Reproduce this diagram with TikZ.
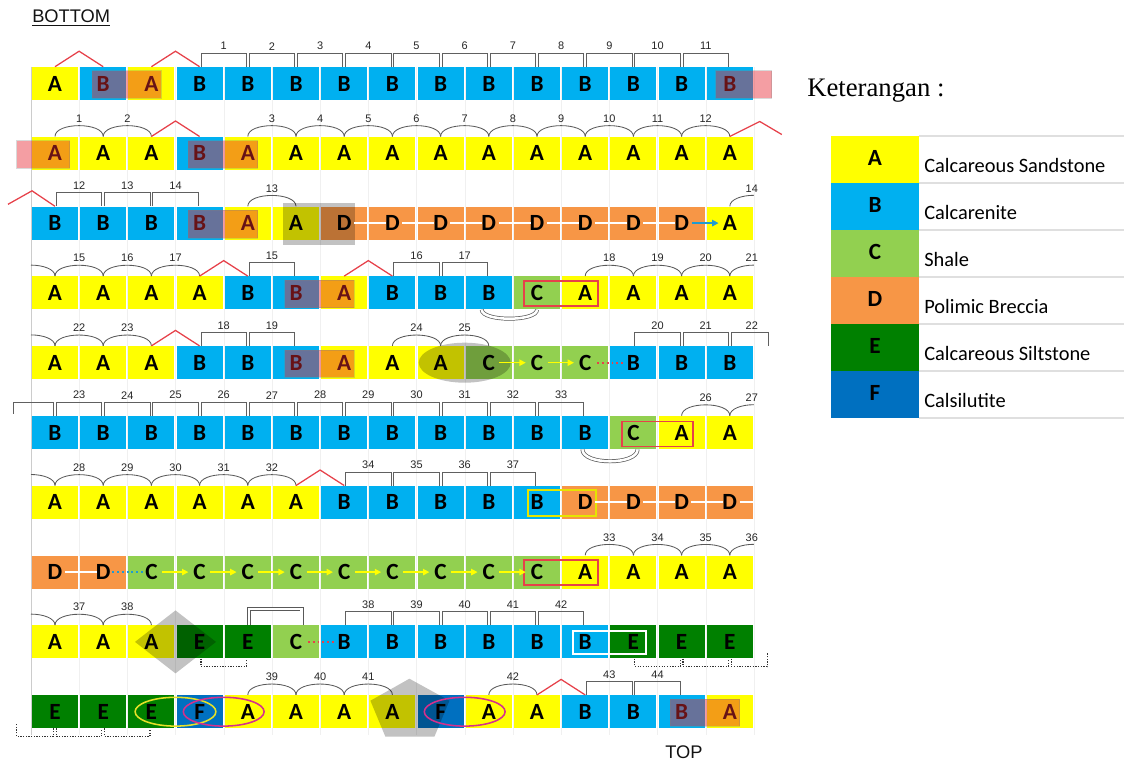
\documentclass[tikz,border=0pt]{standalone}
\usepackage{fontspec}
\usepackage{tikz}
\usetikzlibrary{calc,arrows.meta}
\newfontfamily\calfont{Carlito}
\newfontfamily\arialfont{Liberation Sans}
\newfontfamily\timesfont{Liberation Serif}

\definecolor{colA}{HTML}{FFFF00}
\definecolor{colB}{HTML}{00B0F0}
\definecolor{colC}{HTML}{92D050}
\definecolor{colD}{HTML}{F79646}
\definecolor{colE}{HTML}{008000}
\definecolor{colF}{HTML}{0070C0}
\definecolor{merah}{HTML}{E6414A}
\definecolor{merahlapis}{HTML}{E62832}
\definecolor{biru}{HTML}{1F9BD0}
\definecolor{magen}{HTML}{D6308C}
\definecolor{kuningtua}{HTML}{E6E128}

\tikzset{
  cell/.style={fill=col#1, minimum width=1.15cm, minimum height=0.825cm, inner sep=0pt,
    font=\calfont\bfseries\fontsize{16.5}{17}\selectfont},
  kurung/.style={draw=gray!75!black, line width=0.6pt},
  lengkung/.style={draw=gray!70!black, line width=0.6pt},
  chevron/.style={draw=merah, line width=0.9pt},
  angka/.style={font=\arialfont\fontsize{7.8}{8}\selectfont, text=gray!30!black, inner sep=0pt},
  lapis/.style={fill=merahlapis, fill opacity=0.45, draw=gray, draw opacity=0.3, line width=0.4pt},
  bayang/.style={fill=gray!48, blend mode=multiply},
  bingkai/.style={draw=#1, line width=1.4pt},
  panah/.style={draw=#1, line width=1pt, -{Triangle[length=4.5pt,width=4.5pt]}, shorten <=7.5pt, shorten >=8pt},
  garis/.style={draw=white, line width=1.3pt, shorten <=7pt, shorten >=4.5pt},
  titik/.style={densely dotted, line width=0.9pt, draw=gray!40!black},
  putus/.style={dotted, line width=1.4pt, draw=#1, shorten <=8.5pt, shorten >=7pt},
  kembar/.style={draw=gray!70!black, double=white, double distance=1.8pt, line width=0.5pt}
}

\begin{document}
\begin{tikzpicture}[x=0.025cm, y=-0.025cm]

\def\cw{48.2}
\def\rh{69.8}

\useasboundingbox (0,0) rectangle (1124,760);

\foreach \k in {1,...,15}
  \draw[gray!12] ({31+\cw*\k},67) -- ({31+\cw*\k},735);
\draw[gray!40] (31,67) -- (31,735);

\foreach \r/\urut in {1/{A,B,A,B,B,B,B,B,B,B,B,B,B,B,B},
                      2/{A,A,A,B,A,A,A,A,A,A,A,A,A,A,A},
                      3/{B,B,B,B,A,A,D,D,D,D,D,D,D,D,A},
                      4/{A,A,A,A,B,B,A,B,B,B,C,A,A,A,A},
                      5/{A,A,A,B,B,B,A,A,A,C,C,C,B,B,B},
                      6/{B,B,B,B,B,B,B,B,B,B,B,B,C,A,A},
                      7/{A,A,A,A,A,A,B,B,B,B,B,D,D,D,D},
                      8/{D,D,C,C,C,C,C,C,C,C,C,A,A,A,A},
                      9/{A,A,A,E,E,C,B,B,B,B,B,B,E,E,E},
                      10/{E,E,E,F,A,A,A,A,F,A,A,B,B,B,A}}{
  \foreach \L [count=\i from 0] in \urut
    \node[cell=\L] (k\r-\i) at ({55+\cw*\i},{83.5+\rh*(\r-1)}) {\L};
}

\foreach \r/\i/\n [evaluate=\i as \j using int(\i+1)] in {1/3/1,1/4/2,1/5/3,1/6/4,1/7/5,1/8/6,1/9/7,1/10/8,1/11/9,1/12/10,1/13/11,
    3/0/12,3/1/13,3/2/14, 4/4/15,4/7/16,4/8/17, 5/3/18,5/4/19,5/12/20,5/13/21,
    6/0/23,6/1/24,6/2/25,6/3/26,6/4/27,6/5/28,6/6/29,6/7/30,6/8/31,6/9/32,6/10/33,
    7/6/34,7/7/35,7/8/36,7/9/37, 9/6/38,9/7/39,9/8/40,9/9/41,9/10/42, 10/11/43,10/12/44}{
  \draw[kurung] ([xshift=1pt]k\r-\i.north) -- ++(0,-13.5) -| ([xshift=-1pt]k\r-\j.north);
  \node[angka] (nk\r-\i) at ($(k\r-\i.north)!.5!(k\r-\j.north)+(0,-20.5)$) {\n};
}

\foreach \r/\i/\n [evaluate=\i as \j using int(\i+1)] in {2/0/1,2/1/2,2/4/3,2/5/4,2/6/5,2/7/6,2/8/7,2/9/8,2/10/9,2/11/10,2/12/11,2/13/12,
    3/4/13, 4/0/15,4/1/16,4/2/17,4/11/18,4/12/19,4/13/20, 5/0/22,5/1/23,5/7/24,5/8/25,
    6/13/26, 7/0/28,7/1/29,7/2/30,7/3/31,7/4/32, 8/11/33,8/12/34,8/13/35,
    9/0/37,9/1/38, 10/4/39,10/5/40,10/6/41,10/9/42}{
  \draw[lengkung] (k\r-\i.north) .. controls +(0,-14.5) and +(0,-14.5) .. (k\r-\j.north);
  \node[angka] (nl\r-\i) at ($(k\r-\i.north)!.5!(k\r-\j.north)+(0,-18)$) {\n};
}

\foreach \r/\n in {3/14,4/21,6/27,8/36}{
  \draw[lengkung] (k\r-14.north) .. controls +(0,-7) and +(-12,0) .. +(24,-11);
  \node[angka] (nr\r) at ($(k\r-14.north)+(22,-18)$) {\n};
}
\foreach \r in {4,5,7,9}
  \draw[lengkung] (k\r-0.north) .. controls +(0,-7) and +(12,0) .. +(-24,-11);

\draw[kurung] ([xshift=1pt]k5-14.north) -- ++(0,-13.5) -- ++(37,0) -- ++(0,13.5);
\node[angka] (nk5-14) at ($(k5-14.north)+(22,-20.5)$) {22};
\draw[kurung] ([xshift=-1pt]k6-0.north) -- ++(0,-13.5) -- ++(-40,0) -- ++(0,12);

\foreach \r/\i [evaluate=\i as \j using int(\i+1)] in {1/0,1/2,2/2,4/3,4/6,5/2,7/5,10/10}
  \draw[chevron] (k\r-\i.north) -- ++(24.1,-15.5) -- (k\r-\j.north);
\draw[chevron] (k2-14.north) -- ++(30,-15) -- ++(22,13);
\draw[chevron] (k3-0.north) -- ++(-23,-15.5) -- ++(-24,13.5);

\foreach \r/\i [evaluate=\i as \j using int(\i+1)] in {1/1,2/3,3/3,4/5,5/5,10/13}
  \draw[lapis] ([shift={(12,4)}]k\r-\i.north west) rectangle ([shift={(33,-2)}]k\r-\j.south west);
\draw[lapis] ([shift={(9,4)}]k1-14.north west) rectangle ([shift={(65,-2)}]k1-14.south west);
\draw[lapis] ([shift={(-15,4)}]k2-0.north west) rectangle ([shift={(38,-2)}]k2-0.south west);

\fill[bayang] ([shift={(-13,-3)}]k3-5.north) rectangle ([shift={(11,5)}]k3-6.south);
\coordinate (oval) at ($(k5-8)!.5!(k5-9)$);
\fill[bayang] (oval) ellipse [x radius=1.15cm, y radius=0.5cm];
\coordinate (belah) at ($(k9-2)!.5!(k9-3)$);
\fill[bayang] ([shift={(-40.5,0)}]belah) -- ([shift={(0,-31.5)}]belah) -- ([shift={(40.5,0)}]belah) -- ([shift={(0,31.5)}]belah) -- cycle;
\coordinate (segilima) at ($(k10-7.center)+(17,0)$);
\fill[bayang] ([shift={(0,-33)}]segilima) -- ([shift={(40,-11)}]segilima) -- ([shift={(25,25)}]segilima) -- ([shift={(-24,25)}]segilima) -- ([shift={(-39,-11)}]segilima) -- cycle;

\draw[bingkai=merah] ([shift={(-13,-12)}]k4-10.center) rectangle ([shift={(13,13)}]k4-11.center);
\draw[bingkai=merah] ([shift={(-11,-11)}]k6-12.center) rectangle ([shift={(11,14)}]k6-13.center);
\draw[bingkai=merah] ([shift={(-13,-12)}]k8-10.center) rectangle ([shift={(13,13)}]k8-11.center);
\draw[bingkai=colA!90!black] ([shift={(-9,-12)}]k7-10.center) rectangle ([shift={(11,14)}]k7-11.center);
\draw[bingkai=white] ([shift={(-12,-11)}]k9-11.center) rectangle ([shift={(13,12)}]k9-12.center);

\draw[bingkai=kuningtua, line width=1.1pt] ($(k10-2)!.5!(k10-3)$) ellipse [x radius=1.01cm, y radius=0.36cm];
\draw[bingkai=magen, line width=1.1pt] ($(k10-3)!.5!(k10-4)$) ellipse [x radius=1.01cm, y radius=0.36cm];
\draw[bingkai=magen, line width=1.1pt] ($(k10-8)!.5!(k10-9)$) ellipse [x radius=1.01cm, y radius=0.36cm];

\foreach \r/\i [evaluate=\i as \j using int(\i+1)] in {3/6,3/7,3/8,3/9,3/10,3/11,3/12,7/11,7/12,7/13,8/0}
  \draw[garis] (k\r-\i.center) -- (k\r-\j.center);
\draw[garis, shorten >=0pt] (k7-14.center) -- (k7-14.east);

\draw[panah=biru] (k3-13.center) -- (k3-14.center);
\foreach \r/\i [evaluate=\i as \j using int(\i+1)] in {5/9,5/10,8/2,8/3,8/4,8/5,8/6,8/7,8/8,8/9}
  \draw[panah=colA] (k\r-\i.center) -- (k\r-\j.center);

\draw[putus=merah] (k5-11.center) -- (k5-12.center);
\draw[putus=merah] (k9-5.center) -- (k9-6.center);
\draw[putus=biru, shorten <=6.5pt, shorten >=4.5pt] (k8-1.center) -- (k8-2.center);

\draw[kembar] ([xshift=-5pt]k4-9.south) .. controls +(0,12) and +(0,12) .. (k4-10.south);
\draw[kembar] ([xshift=-2pt]k6-11.south) .. controls +(0,16) and +(0,16) .. ([xshift=3pt]k6-12.south);
\draw[kembar] ([xshift=1pt]k9-4.north) -- ++(0,-16) -| ([xshift=4pt]k9-5.north);

\foreach \r/\i [evaluate=\i as \j using int(\i+1)] in {9/3,9/12,9/13,10/0,10/1}
  \draw[titik] ([xshift=1pt]k\r-\i.south) -- ++(0,8) -| ([xshift=-1pt]k\r-\j.south);
\draw[titik] ([xshift=1pt]k9-14.south) -- ++(0,8) -- ++(36,0) -- ++(0,-14);
\draw[titik] ([xshift=-1pt]k10-0.south) -- ++(0,8) -- ++(-37,0) -- ++(0,-13);

\node[anchor=west, font=\arialfont\fontsize{13}{14}\selectfont, text=gray!15!black, inner sep=0pt] (bawah) at (32,18) {\underline{BOTTOM}};
\node[font=\arialfont\fontsize{13}{14}\selectfont, text=gray!15!black, inner sep=0pt] (atas) at (684,752) {TOP};

\node[anchor=west, font=\timesfont\fontsize{19}{21}\selectfont, inner sep=0pt] (ket) at (807,91) {Keterangan :};

\foreach \L/\nama [count=\k from 0] in {A/Calcareous Sandstone, B/Calcarenite, C/Shale, D/Polimic Breccia, E/Calcareous Siltstone, F/Calsilutite}{
  \node[cell=\L, minimum width=2.2cm, minimum height=1.175cm] (lg\L) at (875,{159.5+47*\k}) {\raisebox{2pt}{\L}};
  \node[anchor=base west, font=\calfont\fontsize{14.5}{15}\selectfont, inner sep=0pt] (lt\L) at (924,{173+47*\k}) {\nama};
}
\foreach \k in {0,...,6}
  \draw[gray!25, line width=0.8pt] (919,{136+47*\k}) -- (1124,{136+47*\k});

\end{tikzpicture}
\end{document}
